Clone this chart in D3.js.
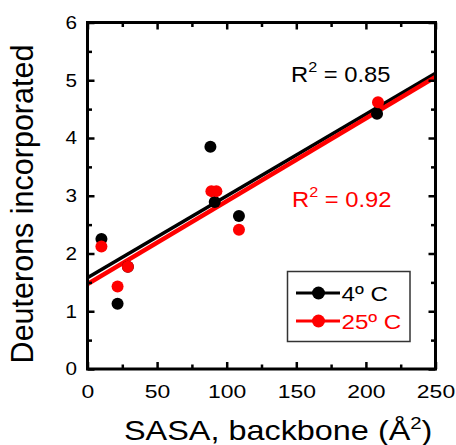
<!DOCTYPE html>
<html>
<head>
<meta charset="utf-8">
<script src="https://cdn.jsdelivr.net/npm/d3@7/dist/d3.min.js"></script>
<style>
  html, body { margin: 0; padding: 0; background: #fff; }
  svg { display: block; font-family: "Liberation Sans", Arial, sans-serif; }
</style>
</head>
<body>
<svg id="chart" width="456" height="445"></svg>
<script>
// Backbone solvent-accessible surface area (Å²) per segment
const sasa4 = [10, 21.6, 29, 88.3, 91.4, 108.8, 208];
const sasa25 = [10, 21.6, 29, 89, 92.6, 108.8, 208.7];
// Deuterons incorporated at each temperature
const deut4 = [2.25, 1.13, 1.77, 3.85, 2.89, 2.65, 4.42];
const deut25 = [2.12, 1.43, 1.77, 3.08, 3.08, 2.41, 4.62];

const seriesNames = ["4º C", "25º C"];
const seriesColors = ["#000000", "#ff0000"];
const r2Labels = ["0.85", "0.92"];

const xMajor = [0, 50, 100, 150, 200, 250];
const xMinor = [25, 75, 125, 175, 225];
const yMajor = [0, 1, 2, 3, 4, 5, 6];
const yMinor = [0.5, 1.5, 2.5, 3.5, 4.5, 5.5];

const W = 456, H = 445;
const m = { left: 87.5, right: 20.5, top: 22.5, bottom: 76 };
const svg = d3.select("#chart");
const FONT = "Liberation Sans, Arial, sans-serif";
const WIDE = 1.2; // horizontal stretch used for the lettering

const x = d3.scaleLinear().domain([0, 250]).range([m.left, W - m.right]);
const y = d3.scaleLinear().domain([0, 6]).range([H - m.bottom, m.top]);

// least-squares line through each series
function fit(xs, ys) {
  const mx = d3.mean(xs), my = d3.mean(ys);
  const sxy = d3.sum(xs, (v, i) => (v - mx) * (ys[i] - my));
  const sxx = d3.sum(xs, v => (v - mx) ** 2);
  const b = sxy / sxx;
  return { a: my - b * mx, b };
}

const series = [
  { xs: sasa4, ys: deut4, color: seriesColors[0], name: seriesNames[0], lw: 3.5 },
  { xs: sasa25, ys: deut25, color: seriesColors[1], name: seriesNames[1], lw: 4.5 }
];

const plot = svg.append("g");
svg.append("clipPath").attr("id", "clip")
  .append("rect").attr("x", m.left).attr("y", m.top)
  .attr("width", W - m.left - m.right).attr("height", H - m.top - m.bottom);

// fit lines
series.forEach((s, i) => {
  const f = fit(s.xs, s.ys);
  const dom = x.domain();
  plot.append("line")
    .attr("clip-path", "url(#clip)")
    .attr("x1", x(dom[0])).attr("y1", y(f.a + f.b * dom[0]) + (i === 1 ? 1.5 : 0))
    .attr("x2", x(dom[1])).attr("y2", y(f.a + f.b * dom[1]) + (i === 1 ? 1.5 : 0))
    .attr("stroke", s.color).attr("stroke-width", s.lw);
});

// points
series.forEach(s => {
  plot.selectAll(null).data(s.xs.map((v, i) => [v, s.ys[i]])).enter()
    .append("circle")
    .attr("cx", d => x(d[0])).attr("cy", d => y(d[1]))
    .attr("r", 6).attr("fill", s.color);
});

// axes: ticks point inward on all four sides
function tickAxis(axisFn, scale, vals, len, transform) {
  const g = svg.append("g").attr("transform", transform)
    .call(axisFn(scale).tickValues(vals).tickSize(len).tickFormat(""));
  g.select(".domain").remove();
  g.selectAll(".tick line").attr("stroke", "#000").attr("stroke-width", 2.5);
  return g;
}
const bottomY = H - m.bottom, rightX = W - m.right;
tickAxis(d3.axisTop, x, xMajor, 7, `translate(0,${bottomY})`);
tickAxis(d3.axisTop, x, xMinor, 4.5, `translate(0,${bottomY})`);
tickAxis(d3.axisBottom, x, xMajor, 7, `translate(0,${m.top})`);
tickAxis(d3.axisBottom, x, xMinor, 4.5, `translate(0,${m.top})`);
tickAxis(d3.axisRight, y, yMajor, 7, `translate(${m.left},0)`);
tickAxis(d3.axisRight, y, yMinor, 4.5, `translate(${m.left},0)`);
tickAxis(d3.axisLeft, y, yMajor, 7, `translate(${rightX},0)`);
tickAxis(d3.axisLeft, y, yMinor, 4.5, `translate(${rightX},0)`);

// frame
svg.append("rect")
  .attr("x", m.left).attr("y", m.top)
  .attr("width", W - m.left - m.right).attr("height", H - m.top - m.bottom)
  .attr("fill", "none").attr("stroke", "#000").attr("stroke-width", 3);

// tick labels
const xl = svg.append("g").attr("transform", `translate(0,${bottomY})`)
  .call(d3.axisBottom(x).tickValues(xMajor).tickSize(0).tickPadding(0).tickFormat(d3.format("d")));
xl.select(".domain").remove();
xl.selectAll("text").attr("font-size", 18.5).attr("fill", "#000")
  .attr("font-family", FONT)
  .attr("dy", null).attr("y", null)
  .attr("transform", `translate(0,29) scale(${WIDE + 0.04},1)`);

const yl = svg.append("g").attr("transform", `translate(${m.left},0)`)
  .call(d3.axisLeft(y).tickValues(yMajor).tickSize(0).tickPadding(0).tickFormat(d3.format("d")));
yl.select(".domain").remove();
yl.selectAll("text").attr("font-size", 18).attr("fill", "#000")
  .attr("font-family", FONT).attr("x", null)
  .attr("transform", `translate(-10.5,0) scale(${WIDE - 0.05},1)`);

// axis titles
const xt = svg.append("text")
  .attr("transform", `translate(124,440) scale(${WIDE},1)`)
  .attr("font-size", 27).attr("fill", "#000");
xt.append("tspan").text("SASA, backbone (Å");
xt.append("tspan").attr("font-size", 17).attr("dy", -11).text("2");
xt.append("tspan").attr("dy", 11).text(")");

svg.append("text")
  .attr("transform", `translate(33,${204}) rotate(-90)`)
  .attr("text-anchor", "middle")
  .attr("font-size", 30.5).attr("fill", "#000")
  .text("Deuterons incorporated");

// R² annotations
function r2(xp, yp, color, val) {
  const t = svg.append("text")
    .attr("transform", `translate(${xp},${yp}) scale(1.08,1)`)
    .attr("font-size", 22).attr("fill", color);
  t.append("tspan").text("R");
  t.append("tspan").attr("font-size", 15).attr("dy", -9.5).text("2");
  t.append("tspan").attr("dy", 9.5).text(" = " + val);
}
r2(291, 81.5, seriesColors[0], r2Labels[0]);
r2(292, 206.5, seriesColors[1], r2Labels[1]);

// legend
const lg = svg.append("g");
lg.append("rect").attr("x", 287.5).attr("y", 271.5).attr("width", 122.5).attr("height", 70)
  .attr("fill", "#fff").attr("stroke", "#333").attr("stroke-width", 1.5);
series.forEach((s, i) => {
  const yy = 293 + i * 28;
  lg.append("line").attr("x1", 296).attr("x2", 340).attr("y1", yy).attr("y2", yy)
    .attr("stroke", s.color).attr("stroke-width", 3);
  lg.append("circle").attr("cx", 318.5).attr("cy", yy).attr("r", 6.5).attr("fill", s.color);
  lg.append("text")
    .attr("transform", `translate(341.5,${yy + 7.5}) scale(1.15,1)`)
    .attr("font-size", 21).attr("fill", s.color).text(s.name);
});
</script>
</body>
</html>
